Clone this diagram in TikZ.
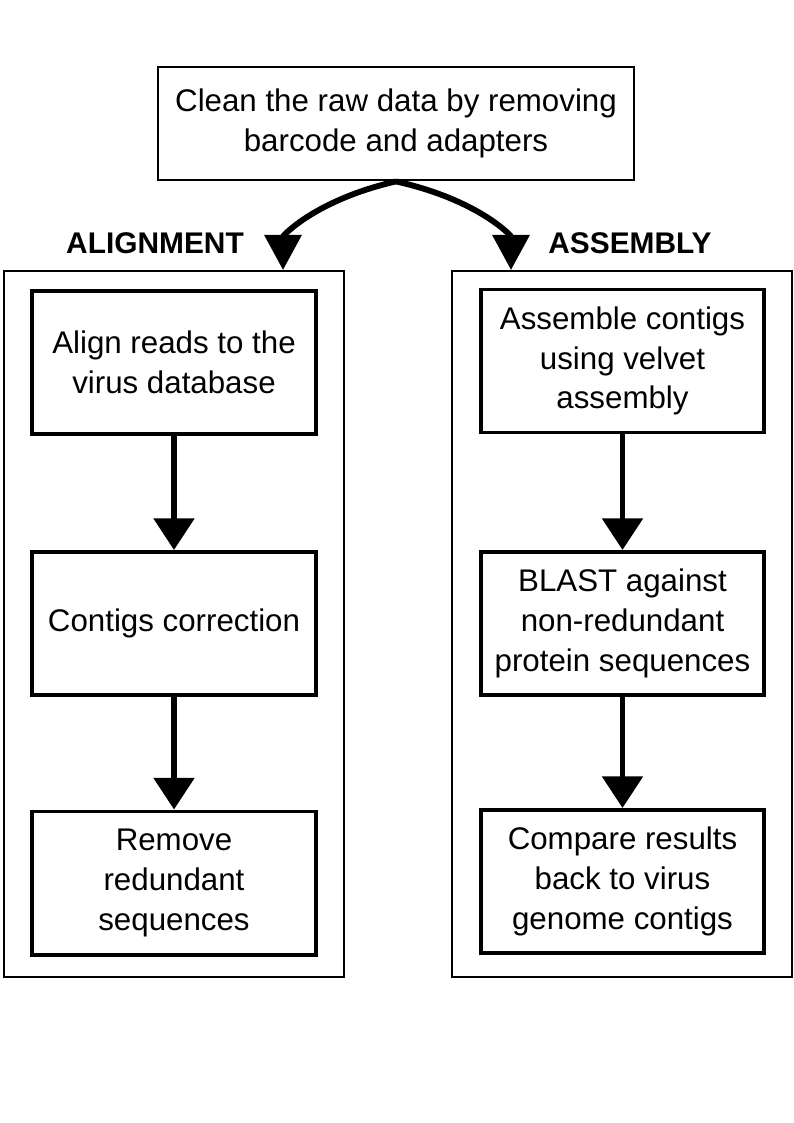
\documentclass[tikz,border=0pt]{standalone}
\usepackage{fontspec}
\setmainfont{Liberation Sans}
\usetikzlibrary{arrows.meta}
\begin{document}
\begin{tikzpicture}[
  x=0.03cm, y=-0.03cm,
  txt/.style={font=\fontsize{26.7}{34}\selectfont, align=center},
  stepbox/.style={txt, rectangle, draw=black, line width=3.4pt, minimum width=8.5cm, minimum height=4.29cm, inner sep=0pt},
  topbox/.style={txt, rectangle, draw=black, line width=2.4pt, minimum width=14.28cm, minimum height=3.39cm, inner sep=0pt},
  frame/.style={rectangle, draw=black, line width=1.6pt, minimum width=10.2cm, minimum height=21.18cm, inner sep=0pt},
  head/.style={font=\fontsize{25.5}{30}\selectfont\bfseries, inner sep=0pt},
  flow/.style={line width=5pt, -{Triangle[width=34pt,length=27pt]}},
  branch/.style={line width=5pt, -{Triangle[width=31pt,length=30pt]}}
]
  \useasboundingbox (0,0) rectangle (794,1123);

  % top step
  \node[topbox] (clean) at (396,123.5) {Clean the raw data by removing\\barcode and adapters};

  % the two frames
  \node[frame] (alnfrm) at (174,624) {};
  \node[frame] (asmfrm) at (622,624) {};
  \node[head, anchor=base] (alnlbl) at (155,253) {ALIGNMENT};
  \node[head, anchor=base] (asmlbl) at (630,253) {ASSEMBLY};

  % alignment branch
  \node[stepbox] (aln1) at (174,362.5) {Align reads to the\\virus database};
  \node[stepbox] (aln2) at (174,623.5) {Contigs correction};
  \node[stepbox] (aln3) at (174,883) {Remove\\redundant\\sequences};

  % assembly branch
  \node[stepbox] (asm1) at (622.5,361) {Assemble contigs\\using velvet\\assembly};
  \node[stepbox] (asm2) at (622.5,623.5) {BLAST against\\non-redundant\\protein sequences};
  \node[stepbox] (asm3) at (622.5,881.5) {Compare results\\back to virus\\genome contigs};

  % split arrows
  \coordinate (alnin) at (283,270);
  \coordinate (asmin) at (511,270);
  \draw[branch] (clean.south) .. controls (315,200) and (283,236) .. (alnin);
  \draw[branch] (clean.south) .. controls (479,200) and (511,236) .. (asmin);

  % Aristas
  \draw[flow] (aln1) -- (aln2);
  \draw[flow] (aln2) -- (aln3);
  \draw[flow] (asm1) -- (asm2);
  \draw[flow] (asm2) -- (asm3);
\end{tikzpicture}
\end{document}
